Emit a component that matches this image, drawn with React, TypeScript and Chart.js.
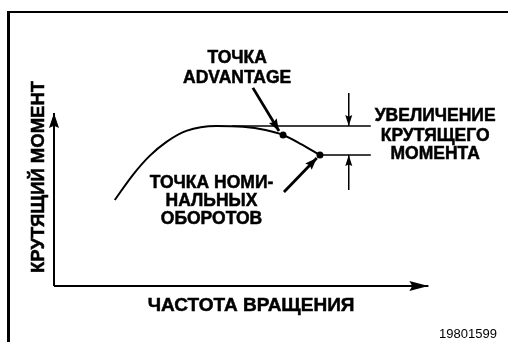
import { useEffect, useRef } from "react";
import { Chart, registerables } from "chart.js";

Chart.register(...registerables);

// Torque curve (engine speed vs torque, arbitrary units 0..100)
const speed = [13.5, 17.5, 21.2, 25.0, 29.4, 36.1, 42.0, 47.0, 50.9, 54.9, 59.1];
const torque = [31.4, 40.5, 47.4, 52.6, 56.6, 58.4, 58.1, 56.9, 55.1, 51.8, 47.8];

// Marked points: ADVANTAGE point, rated speed point
const markerSpeed = [50.9, 59.1];
const markerTorque = [55.1, 47.8];

// Reference (torque rise) lines
const refUpperSpeed = [39.6, 70.4];
const refUpperTorque = [58.4, 58.4];
const refLowerSpeed = [59.1, 70.4];
const refLowerTorque = [47.8, 47.8];

// Axes
const yAxisSpeed = [0, 0];
const yAxisTorque = [0, 63.1];
const xAxisSpeed = [0, 83.2];
const xAxisTorque = [0, 0];

// Dimension arrows for torque rise
const dimSpeed = [65.5, 65.5];
const dimUpperTorque = [70.4, 58.4];
const dimLowerTorque = [35.0, 47.8];

// Leader arrows
const leaderAdvSpeed = [44.2, 50.0];
const leaderAdvTorque = [72.3, 56.6];
const leaderRatedSpeed = [51.1, 58.4];
const leaderRatedTorque = [34.3, 46.7];

// Text labels
const labelTexts = [
  "ТОЧКА",
  "ADVANTAGE",
  "УВЕЛИЧЕНИЕ",
  "КРУТЯЩЕГО",
  "МОМЕНТА",
  "ТОЧКА НОМИ-",
  "НАЛЬНЫХ",
  "ОБОРОТОВ",
];
const labelSpeed = [40.7, 40.7, 84.7, 84.7, 84.7, 35.0, 35.0, 35.0];
const labelTorque = [83.6, 76.3, 62.4, 55.1, 48.5, 38.1, 31.4, 24.8];

const xAxisTitle = "ЧАСТОТА ВРАЩЕНИЯ";
const xAxisTitlePos = [43.8, -6.6];
const yAxisTitle = "КРУТЯЩИЙ МОМЕНТ";
const yAxisTitlePos = [-3.8, 39.8];
const figureId = "19801599";
const figureIdPos = [92.0, -17.2];

const FONT = '"Liberation Sans", Arial, sans-serif';

const pts = (xs: number[], ys: number[]) => xs.map((x, i) => ({ x, y: ys[i] }));

export default function App() {
  const ref = useRef<HTMLCanvasElement>(null);

  useEffect(() => {
    if (!ref.current) return;

    const line = (data: any, width: number, arrow?: { len: number; half: number }) => ({
      data,
      showLine: true,
      borderColor: "#000",
      backgroundColor: "#000",
      borderWidth: width,
      pointRadius: 0,
      clip: false,
      arrow,
    });

    const boldText = (ctx: CanvasRenderingContext2D, t: string, x: number, y: number) => {
      ctx.fillText(t, x, y);
      ctx.strokeText(t, x, y);
    };

    const diagram = {
      id: "diagram",
      afterDatasetsDraw(chart: any) {
        const ctx = chart.ctx as CanvasRenderingContext2D;
        const xs = chart.scales.x;
        const ys = chart.scales.y;
        // arrowheads
        chart.data.datasets.forEach((ds: any, i: number) => {
          const a = ds.arrow;
          if (!a) return;
          const els = chart.getDatasetMeta(i).data;
          const p1 = els[els.length - 1];
          const p0 = els[els.length - 2];
          const ang = Math.atan2(p1.y - p0.y, p1.x - p0.x);
          ctx.save();
          ctx.translate(p1.x, p1.y);
          ctx.rotate(ang);
          ctx.fillStyle = "#000";
          ctx.beginPath();
          ctx.moveTo(0, 0);
          ctx.lineTo(-a.len, -a.half);
          ctx.lineTo(-a.len * 0.85, 0);
          ctx.lineTo(-a.len, a.half);
          ctx.closePath();
          ctx.fill();
          ctx.restore();
        });

        // labels
        ctx.save();
        ctx.fillStyle = "#000";
        ctx.strokeStyle = "#000";
        ctx.lineWidth = 0.5;
        ctx.textAlign = "center";
        ctx.textBaseline = "alphabetic";
        ctx.font = `bold 17.5px ${FONT}`;
        labelTexts.forEach((t, i) => {
          const px = xs.getPixelForValue(labelSpeed[i]);
          const py = ys.getPixelForValue(labelTorque[i]);
          boldText(ctx, t, px, py + 6.3);
        });
        ctx.font = `bold 19px ${FONT}`;
        boldText(
          ctx,
          xAxisTitle,
          xs.getPixelForValue(xAxisTitlePos[0]),
          ys.getPixelForValue(xAxisTitlePos[1]) + 6.8
        );
        // rotated y title
        ctx.font = `bold 18.5px ${FONT}`;
        const tx = xs.getPixelForValue(yAxisTitlePos[0]);
        const ty = ys.getPixelForValue(yAxisTitlePos[1]);
        ctx.translate(tx, ty);
        ctx.rotate(-Math.PI / 2);
        boldText(ctx, yAxisTitle, 0, 6.6);
        ctx.restore();

        ctx.save();
        ctx.fillStyle = "#000";
        ctx.textAlign = "center";
        ctx.textBaseline = "alphabetic";
        ctx.font = `13px ${FONT}`;
        ctx.fillText(
          figureId,
          xs.getPixelForValue(figureIdPos[0]),
          ys.getPixelForValue(figureIdPos[1]) + 4.7
        );
        ctx.restore();

        // frame
        ctx.save();
        ctx.strokeStyle = "#000";
        ctx.lineWidth = 2;
        ctx.beginPath();
        ctx.moveTo(7, 12);
        ctx.lineTo(508, 12);
        ctx.stroke();
        ctx.lineWidth = 3;
        ctx.beginPath();
        ctx.moveTo(8.5, 11);
        ctx.lineTo(8.5, 342);
        ctx.stroke();
        ctx.restore();
      },
    };

    const chart = new Chart(ref.current, {
      type: "scatter",
      data: {
        datasets: [
          {
            ...line(pts(speed, torque), 2),
            cubicInterpolationMode: "monotone",
          },
          line(pts(refUpperSpeed, refUpperTorque), 1.5),
          line(pts(refLowerSpeed, refLowerTorque), 1.5),
          line(pts(yAxisSpeed, yAxisTorque), 2, { len: 15, half: 5 }),
          line(pts(xAxisSpeed, xAxisTorque), 2, { len: 19, half: 5 }),
          line(pts(dimSpeed, dimUpperTorque), 1.5, { len: 11, half: 3.5 }),
          line(pts(dimSpeed, dimLowerTorque), 1.5, { len: 11, half: 3.5 }),
          line(pts(leaderAdvSpeed, leaderAdvTorque), 2.8, { len: 12, half: 4.5 }),
          line(pts(leaderRatedSpeed, leaderRatedTorque), 2.8, { len: 12, half: 4.5 }),
          {
            data: pts(markerSpeed, markerTorque),
            showLine: false,
            pointRadius: 3.5,
            pointBackgroundColor: "#000",
            pointBorderColor: "#000",
            pointBorderWidth: 0,
            clip: false,
          },
        ] as any,
      },
      options: {
        animation: false,
        responsive: false,
        events: [],
        layout: { padding: { left: 54, right: 2, top: 12, bottom: 56 } },
        plugins: { legend: { display: false }, tooltip: { enabled: false } },
        scales: {
          x: { type: "linear", min: 0, max: 100, display: false },
          y: { type: "linear", min: 0, max: 100, display: false },
        },
      },
      plugins: [diagram],
    });

    return () => chart.destroy();
  }, []);

  return (
    <div style={{ position: "absolute", left: 0, top: 0, width: 508, height: 342, background: "#fff" }}>
      <canvas ref={ref} width={508} height={342} style={{ display: "block" }} />
    </div>
  );
}
